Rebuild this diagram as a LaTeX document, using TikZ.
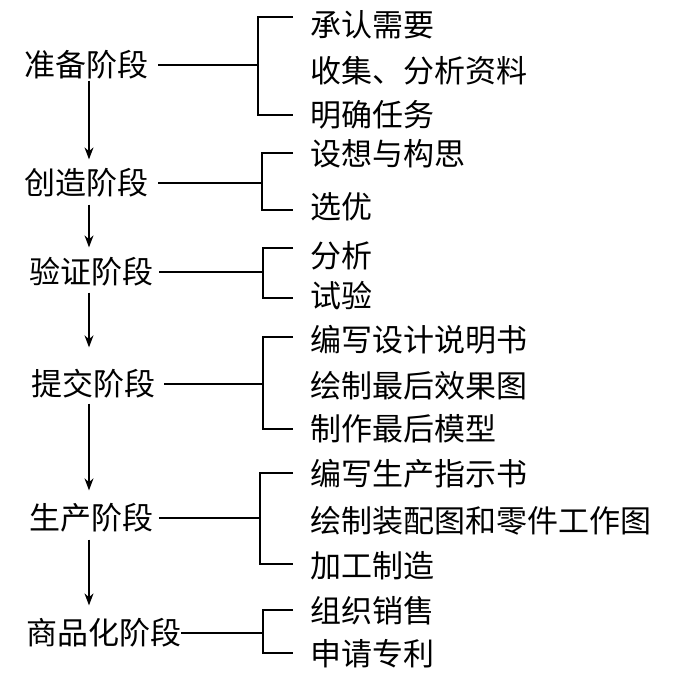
\documentclass[tikz,border=0pt]{standalone}
\usepackage{fontspec}
\newfontfamily\cjk{Noto Sans CJK SC}
\usetikzlibrary{arrows.meta,calc}
\begin{document}
\begin{tikzpicture}[x=1pt,y=-1pt,
  txt/.style={anchor=west,inner sep=0pt,font=\cjk\fontsize{31}{31}\selectfont},
  conn/.style={line width=1.3pt},
  arr/.style={line width=1.3pt,-{Stealth[length=12pt,width=9pt]}}]
\fill[white] (0,0) rectangle (681,676);
\useasboundingbox (0,0) rectangle (681,676);
% stages
\node[txt] (s1) at (24,65) {准备阶段};
\node[txt] (s2) at (24,183) {创造阶段};
\node[txt] (s3) at (29,272) {验证阶段};
\node[txt] (s4) at (31,384) {提交阶段};
\node[txt] (s5) at (29,518) {生产阶段};
\node[txt] (s6) at (26,633) {商品化阶段};
% items
\node[txt] (i11) at (310,25) {承认需要};
\node[txt] (i12) at (310,71) {收集、分析资料};
\node[txt] (i13) at (310,115) {明确任务};
\node[txt] (i21) at (310,154) {设想与构思};
\node[txt] (i22) at (310,207) {选优};
\node[txt] (i31) at (310,256) {分析};
\node[txt] (i32) at (310,296) {试验};
\node[txt] (i41) at (310,340) {编写设计说明书};
\node[txt] (i42) at (310,386) {绘制最后效果图};
\node[txt] (i43) at (310,429) {制作最后模型};
\node[txt] (i51) at (310,474) {编写生产指示书};
\node[txt] (i52) at (310,521) {绘制装配图和零件工作图};
\node[txt] (i53) at (310,566) {加工制造};
\node[txt] (i61) at (310,611) {组织销售};
\node[txt] (i62) at (310,654) {申请专利};
% helper coordinates
\coordinate (ax) at (89,0);
\coordinate (tx) at (293,0);
\coordinate (b1t) at (258,17);  \coordinate (b1b) at (258,115);
\coordinate (b2t) at (262,153); \coordinate (b2b) at (262,210);
\coordinate (b3t) at (263,248); \coordinate (b3b) at (263,298);
\coordinate (b4t) at (263,337); \coordinate (b4b) at (263,429);
\coordinate (b5t) at (260,473); \coordinate (b5b) at (260,564);
\coordinate (b6t) at (263,610); \coordinate (b6b) at (263,653);
% brackets
\foreach \b in {1,...,6}{
  \draw[conn] (b\b t -| tx) -- (b\b t) -- (b\b b) -- (b\b b -| tx);
}
% stage to bracket
\draw[conn] ([xshift=10pt]s1.east) -- (s1 -| b1t);
\draw[conn] ([xshift=10pt]s2.east) -- (s2 -| b2t);
\draw[conn] ([xshift=6pt]s3.east) -- (s3 -| b3t);
\draw[conn] ([xshift=9pt]s4.east) -- (s4 -| b4t);
\draw[conn] ([xshift=6pt]s5.east) -- (s5 -| b5t);
\draw[conn] ([xshift=0pt]s6.east) -- (s6 -| b6t);
% arrows
\draw[arr] ($(s1.south -| ax)+(0,1)$) -- ($(s2.north -| ax)+(0,-9)$);
\draw[arr] ($(s2.south -| ax)+(0,7)$) -- ($(s3.north -| ax)+(0,-10)$);
\draw[arr] ($(s3.south -| ax)+(0,6)$) -- ($(s4.north -| ax)+(0,-22)$);
\draw[arr] ($(s4.south -| ax)+(0,5)$) -- ($(s5.north -| ax)+(0,-13)$);
\draw[arr] ($(s5.south -| ax)+(0,7)$) -- ($(s6.north -| ax)+(0,-13)$);
\end{tikzpicture}
\end{document}
